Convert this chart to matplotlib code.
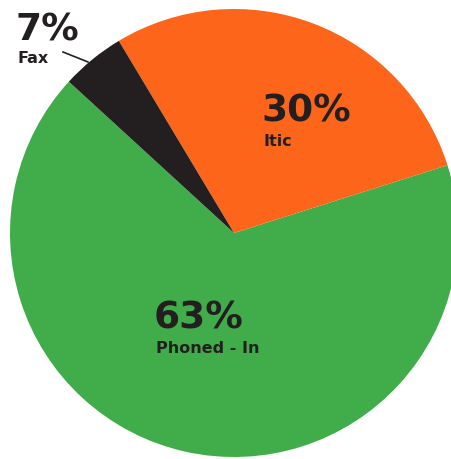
import matplotlib
matplotlib.use("Agg")
import matplotlib.pyplot as plt

categories = ["Phoned - In", "Itic", "Fax"]
shares = [66.7, 28.7, 4.6]
pct_labels = ["63%", "30%", "7%"]
colors = ["#41AD4A", "#FC651A", "#231F20"]

W, H = 451, 460
fig = plt.figure(figsize=(W / 100, H / 100), dpi=100)

# pie centre at (234, 234) px, radius 224 px
cx, cy, r = 234, 234, 224
ax = fig.add_axes([(cx - r) / W, (H - cy - r) / H, 2 * r / W, 2 * r / H])
ax.pie(shares, colors=colors, startangle=137.5, counterclock=True,
       wedgeprops=dict(linewidth=0), radius=1)
ax.set_xlim(-1, 1)
ax.set_ylim(-1, 1)
ax.axis("off")


def px(x, y):
    return (x - cx) / r, (cy - y) / r


txt = "#231F20"
big = dict(fontsize=27, fontweight="bold", family="DejaVu Sans", color=txt,
           ha="left", va="baseline")
small = dict(fontsize=11.5, fontweight="bold", family="DejaVu Sans", color=txt,
             ha="left", va="baseline")

# (big label pos, small label pos) in pixels
pos = [((154, 329), (156, 353)),
       ((261, 121), (263, 146)),
       ((15, 41), (17, 63))]

for cat, lab, (p1, p2) in zip(categories, pct_labels, pos):
    ax.text(*px(*p1), lab, **big)
    ax.text(*px(*p2), cat, **small)

# leader line for Fax
x0, y0 = px(63, 53)
x1, y1 = px(88, 63)
ax.plot([x0, x1], [y0, y1], color=txt, lw=1.2, clip_on=False)

fig.savefig("out.png", dpi=100)
